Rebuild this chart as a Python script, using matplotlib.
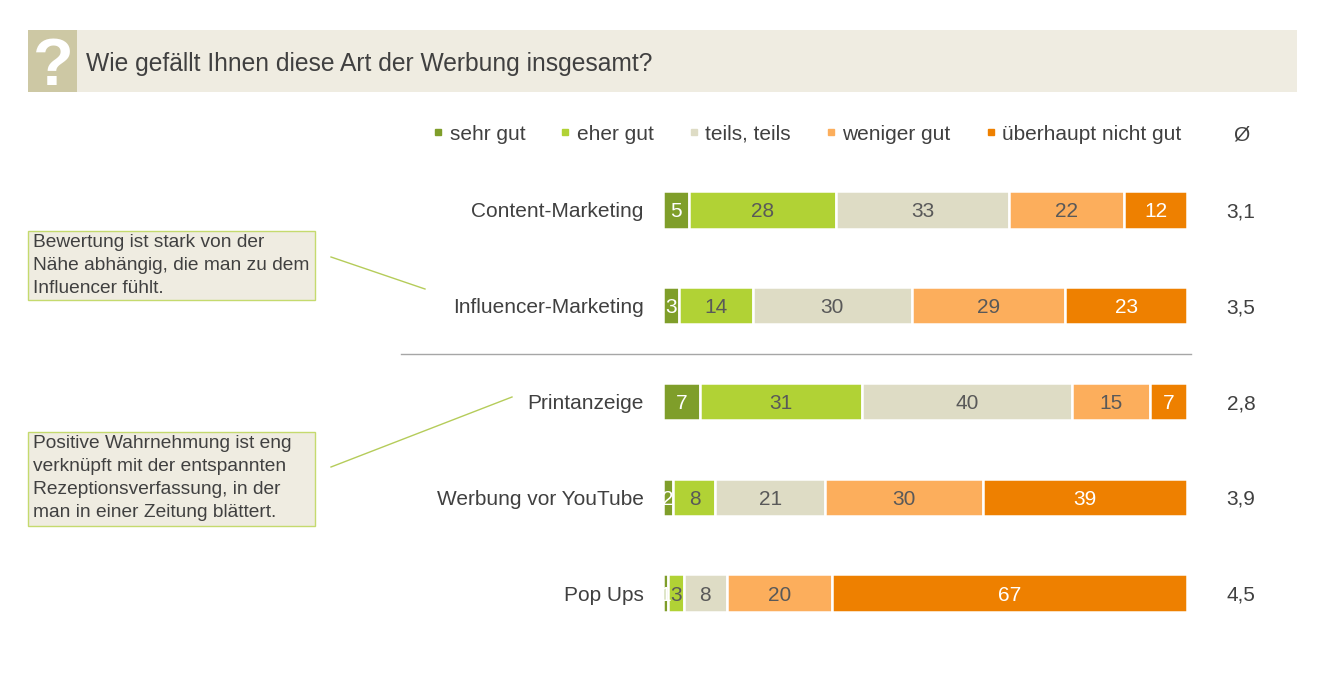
import matplotlib.pyplot as plt
from matplotlib.patches import Rectangle
from matplotlib.lines import Line2D

plt.rcParams['font.family'] = ['Liberation Sans', 'DejaVu Sans']

categories = ['Content-Marketing', 'Influencer-Marketing', 'Printanzeige',
              'Werbung vor YouTube', 'Pop Ups']
series = ['sehr gut', 'eher gut', 'teils, teils', 'weniger gut', 'überhaupt nicht gut']
values = [
    [5, 3, 7, 2, 1],       # sehr gut
    [28, 14, 31, 8, 3],    # eher gut
    [33, 30, 40, 21, 8],   # teils, teils
    [22, 29, 15, 30, 20],  # weniger gut
    [12, 23, 7, 39, 67],   # überhaupt nicht gut
]
averages = ['3,1', '3,5', '2,8', '3,9', '4,5']
colors = ['#7f9e2a', '#b1d235', '#dedcc5', '#fcae5c', '#ee8000']
label_colors = ['white', '#595959', '#595959', '#595959', 'white']
title = 'Wie gefällt Ihnen diese Art der Werbung insgesamt?'
notes = ['Bewertung ist stark von der\nNähe abhängig, die man zu dem\nInfluencer fühlt.',
         'Positive Wahrnehmung ist eng\nverknüpft mit der entspannten\nRezeptionsverfassung, in der\nman in einer Zeitung blättert.']

W, H = 1326, 690
fig = plt.figure(figsize=(W / 100, H / 100), dpi=100)


def fx(px):
    return px / W


def fy(py):
    return 1 - py / H


text_col = '#404040'
fs = 15

# header band
fig.add_artist(Rectangle((fx(28), fy(92)), fx(1297 - 28), (92 - 30) / H,
                         transform=fig.transFigure, facecolor='#efece1', edgecolor='none'))
fig.add_artist(Rectangle((fx(28), fy(92)), fx(77 - 28), (92 - 30) / H,
                         transform=fig.transFigure, facecolor='#cdc8a4', edgecolor='none'))
fig.text(fx(53), fy(61), '?', color='white', fontsize=48, fontweight='bold',
         ha='center', va='center_baseline')
fig.text(fx(86), fy(62), title, color=text_col, fontsize=17.7, ha='left',
         va='center_baseline')

# bars, each row scaled to its own total
top, bottom = 162, 641
ax = fig.add_axes([fx(663), fy(bottom), fx(1187 - 663), (bottom - top) / H])
y = list(range(len(categories)))
totals = [sum(col) for col in zip(*values)]
left = [0] * len(categories)
for vals, col, lcol, name in zip(values, colors, label_colors, series):
    widths = [v / t * 100 for v, t in zip(vals, totals)]
    ax.barh(y, widths, left=left, height=0.39, color=col, edgecolor='white',
            linewidth=1.8, label=name)
    for i, v in enumerate(vals):
        ax.text(left[i] + widths[i] / 2, i, str(v), ha='center',
                va='center_baseline', color=lcol, fontsize=fs)
    left = [a + b for a, b in zip(left, widths)]

ax.set_xlim(0, 100)
ax.set_ylim(len(categories) - 0.5, -0.5)
ax.set_yticks(y)
ax.set_yticklabels(categories, fontsize=fs, color=text_col)
ax.tick_params(axis='y', length=0, pad=14)
for t in ax.get_yticklabels():
    t.set_verticalalignment('center_baseline')
ax.set_xticks([])
for s in ax.spines.values():
    s.set_visible(False)

for i, a in enumerate(averages):
    ax.text(110.3, i, a, ha='center', va='center_baseline', fontsize=fs,
            color=text_col, clip_on=False)
ax.text(110.3, -0.8, 'Ø', ha='center', va='center_baseline', fontsize=fs,
        color=text_col, clip_on=False)

# separator between the groups
ax.plot([-50, 100.8], [1.5, 1.5], color='#a6a6a6', linewidth=1, clip_on=False)

# legend
handles = [Line2D([], [], marker='s', linestyle='none', markersize=5,
                  color=c, label=n) for c, n in zip(colors, series)]
leg = fig.legend(handles=handles, loc='center right', ncol=5,
                 bbox_to_anchor=(fx(1200), fy(134)), frameon=False,
                 handlelength=0.4, handletextpad=0.35, columnspacing=1.72,
                 fontsize=fs)
for t in leg.get_texts():
    t.set_color(text_col)

# annotation boxes
boxes = [(28, 231, 315, 300), (28, 432, 315, 526)]
for (x0, y0, x1, y1), note in zip(boxes, notes):
    fig.add_artist(Rectangle((fx(x0), fy(y1)), fx(x1 - x0), (y1 - y0) / H,
                             transform=fig.transFigure, facecolor='#efece1',
                             edgecolor='#c5da6e', linewidth=1))
    fig.text(fx(x0 + 5), fy(y0 + 3), note, ha='left', va='top', fontsize=13.8,
             color=text_col, linespacing=1.45)

connectors = [((331, 257), (425, 289)), ((331, 467), (512, 397))]
for (xa, ya), (xb, yb) in connectors:
    fig.add_artist(Line2D([fx(xa), fx(xb)], [fy(ya), fy(yb)],
                          transform=fig.transFigure, color='#b5cc5a', linewidth=1))

fig.savefig('out.png', dpi=100, facecolor='white')
